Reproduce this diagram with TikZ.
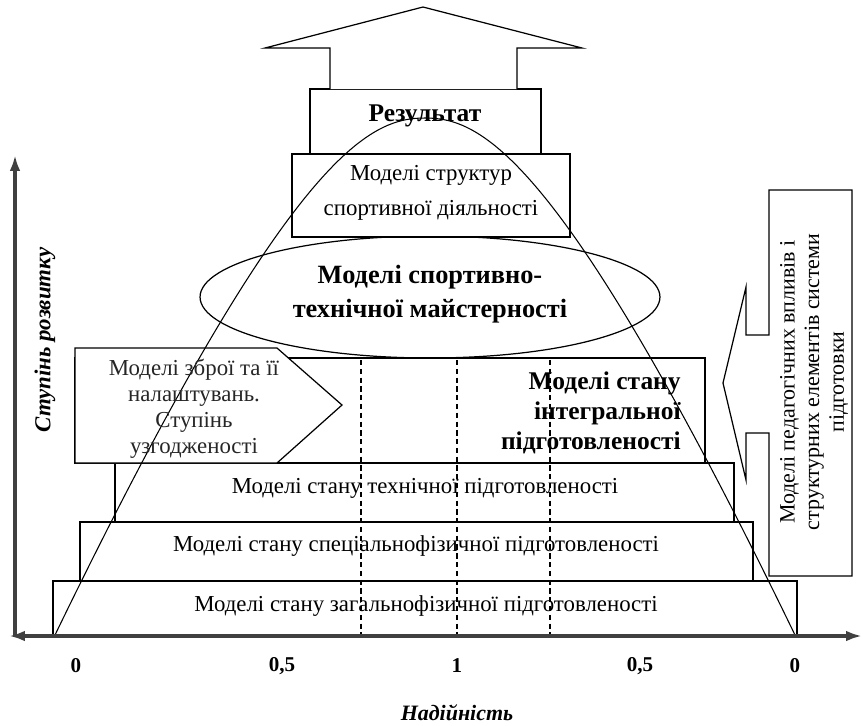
\documentclass[tikz,border=0pt]{standalone}
\usepackage{fontspec}
\setmainfont{Liberation Serif}
\usetikzlibrary{arrows.meta}

\tikzset{
  blok/.style={draw=black, fill=white, line width=0.7pt},
  txt/.style={font=\fontsize{13}{15}\selectfont, align=center, inner sep=0pt},
  btxt/.style={font=\fontsize{14.5}{17}\selectfont\bfseries, align=center, inner sep=0pt},
  vis/.style={draw=black!75, line width=1.8pt},
  num/.style={font=\fontsize{12}{14}\selectfont\bfseries, inner sep=0pt},
}

\begin{document}
\begin{tikzpicture}[x=0.02cm,y=-0.02cm]
\useasboundingbox (0,0) rectangle (863,725);

% ellipse for sports and technical mastery
\draw[line width=0.7pt] (430,297) ellipse (4.6cm and 1.22cm);

% levels, bottom to top
\draw[blok] (53,581) rectangle (797,636);
\draw[blok] (80,522) rectangle (753,581);
\draw[blok] (115,463) rectangle (734,522);
\draw[blok] (75,358) rectangle (705,463);
\draw[blok] (75,348) -- (277,348) -- (342,405) -- (277,463) -- (75,463) -- cycle;
\draw[blok] (292,154) rectangle (570,237);
\draw[blok] (310,89) rectangle (541,154);
\draw[blok] (330,89) -- (330,48) -- (265,48) -- (423,7) -- (582,48) -- (517,48) -- (517,89);

% box on the right with arrow
\draw[blok] (769,190) -- (852,190) -- (852,576) -- (769,576) -- (769,433) -- (746,433)
  -- (746,480) -- (723,383) -- (746,287) -- (746,335) -- (769,335) -- cycle;

% the curve
\draw[line width=0.6pt] (55,635) .. controls (290,150) and (370,118) .. (425,118)
  .. controls (480,118) and (560,150) .. (795,635);

% dashed lines
\foreach \xx in {361,457,550}
  \draw[line width=0.7pt, dash pattern=on 3pt off 2pt] (\xx,360) -- (\xx,635);

% axes
\coordinate (O) at (15,636);
\coordinate (Top) at (15,155);
\coordinate (L) at (9,636);
\coordinate (R) at (862,636);
\draw[vis, -{Latex[length=9pt,width=6pt]}] (O) -- (Top);
\draw[vis, {Latex[length=9pt,width=6pt]}-{Latex[length=9pt,width=6pt]}] (L) -- (R);

\node[num] (n1) at (76,666) {0};
\node[num] (n2) at (282,666) {0,5};
\node[num] (n3) at (457,666) {1};
\node[num] (n4) at (640,666) {0,5};
\node[num] (n5) at (795,666) {0};
\node[num, font=\fontsize{12.5}{14}\selectfont\bfseries\itshape] (nad) at (457,713) {Надійність};
\node[num, font=\fontsize{13}{14}\selectfont\bfseries\itshape, rotate=90] (stup) at (45,340) {Ступінь розвитку};

% texts
\node[btxt] (rez) at (425,116) {Результат};
\node[txt, font=\fontsize{13}{20}\selectfont] (struct) at (431,193) {Моделі структур\\спортивної діяльності};
\node[btxt, font=\fontsize{15}{19}\selectfont\bfseries] (maist) at (430,294) {Моделі спортивно-\\технічної майстерності};
\node[btxt, align=right, anchor=east] (integr) at (681,413) {Моделі стану\\інтегральної\\підготовленості};
\node[txt, font=\fontsize{13}{14.7}\selectfont, text=black!85] (zbr) at (194,409) {Моделі зброї та її\\налаштувань.\\Ступінь\\узгодженості};
\node[txt] (tech) at (425,488) {Моделі стану технічної підготовленості};
\node[txt] (spec) at (416,546) {Моделі стану спеціальнофізичної підготовленості};
\node[txt] (zag) at (426,606) {Моделі стану загальнофізичної підготовленості};
\node[txt, font=\fontsize{12.5}{14}\selectfont, rotate=90] (ped) at (814,382) {Моделі педагогічних впливів і\\структурних елементів системи\\підготовки};

\end{tikzpicture}
\end{document}
